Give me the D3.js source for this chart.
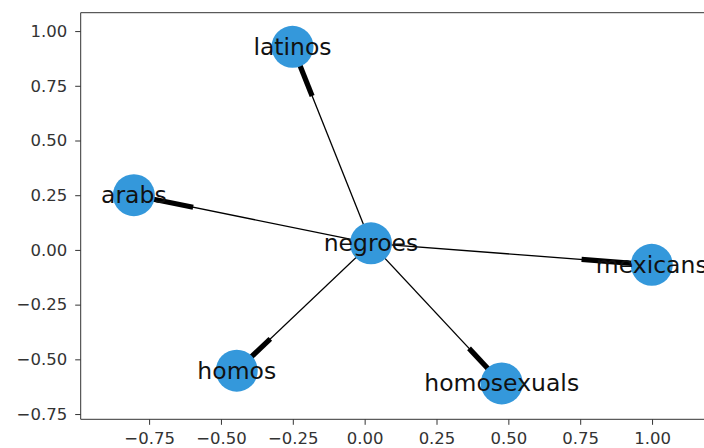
<!DOCTYPE html>
<html>
  <head>
    <meta charset="utf-8" />
    <script src="https://cdn.jsdelivr.net/npm/d3@7"></script>
    <style>
      body { margin: 0; background: #fff; }
      .spine { stroke: #333; stroke-width: 1; fill: none; }
      .tick line { stroke: #333; }
      .tick text { font-family: "DejaVu Sans"; font-size: 16.5px; fill: #333; }
      .edge { stroke: #000; fill: none; }
      .node { fill: #3498db; }
      .label { font-family: "DejaVu Sans"; font-size: 23.5px; fill: #111; }
    </style>
  </head>
  <body>
    <div id="chart"></div>
    <script type="text/javascript">

      var w = 704, h = 448;

      // node positions (data coordinates)
      var nodes = ["negroes", "latinos", "arabs", "mexicans", "homos", "homosexuals"];
      var nodeX = [0.022, -0.251, -0.803, 0.999, -0.445, 0.477];
      var nodeY = [0.030, 0.928, 0.250, -0.068, -0.552, -0.610];

      // directed edges: source -> target
      var edgeSource = ["negroes", "negroes", "negroes", "negroes", "negroes"];
      var edgeTarget = ["latinos", "arabs", "mexicans", "homos", "homosexuals"];

      var xTicks = [-0.75, -0.5, -0.25, 0, 0.25, 0.5, 0.75, 1.0];
      var yTicks = [-0.75, -0.5, -0.25, 0, 0.25, 0.5, 0.75, 1.0];

      var axLeft = 80.7, axTop = 12.7, axBottom = 419.3;
      var x = d3.scaleLinear().domain([-0.988, 1.2]).range([axLeft, axLeft + 2.188 * 287.4]);
      var y = d3.scaleLinear().domain([-0.774, 1.084]).range([axBottom, axTop]);

      var fmt = function(v) { return d3.format(".2f")(v).replace("-", "\u2212"); };

      var svg = d3.select("#chart").append("svg")
        .attr("width", w).attr("height", h);

      var pos = {};
      nodes.forEach(function(n, i) { pos[n] = { x: nodeX[i], y: nodeY[i] }; });

      var edges = edgeSource.map(function(s, i) { return { s: pos[s], t: pos[edgeTarget[i]] }; });

      // thin edges
      svg.selectAll("line.thin").data(edges).enter().append("line")
        .attr("class", "edge")
        .attr("stroke-width", 1.3)
        .attr("x1", function(d) { return x(d.s.x); })
        .attr("y1", function(d) { return y(d.s.y); })
        .attr("x2", function(d) { return x(d.t.x); })
        .attr("y2", function(d) { return y(d.t.y); });

      // old networkx style "arrows": thick last quarter of each edge
      var p = 0.75;
      svg.selectAll("line.arrow").data(edges).enter().append("line")
        .attr("class", "edge")
        .attr("stroke-width", 5.2)
        .attr("x1", function(d) { return x(d.s.x + p * (d.t.x - d.s.x)); })
        .attr("y1", function(d) { return y(d.s.y + p * (d.t.y - d.s.y)); })
        .attr("x2", function(d) { return x(d.t.x); })
        .attr("y2", function(d) { return y(d.t.y); });

      svg.selectAll("circle.node").data(nodes).enter().append("circle")
        .attr("class", "node")
        .attr("r", 21)
        .attr("cx", function(d) { return x(pos[d].x); })
        .attr("cy", function(d) { return y(pos[d].y); });

      svg.selectAll("text.label").data(nodes).enter().append("text")
        .attr("class", "label")
        .attr("text-anchor", "middle")
        .attr("dominant-baseline", "central")
        .attr("x", function(d) { return x(pos[d].x); })
        .attr("y", function(d) { return y(pos[d].y); })
        .text(function(d) { return d; });

      // axes
      svg.append("g").attr("transform", "translate(0," + axBottom + ")")
        .call(d3.axisBottom(x).tickValues(xTicks).tickFormat(fmt).tickSize(5.5).tickPadding(7))
        .call(function(g) { g.select(".domain").remove(); });

      svg.append("g").attr("transform", "translate(" + axLeft + ",0)")
        .call(d3.axisLeft(y).tickValues(yTicks).tickFormat(fmt).tickSize(5.5).tickPadding(8))
        .call(function(g) { g.select(".domain").remove(); });

      svg.append("path").attr("class", "spine")
        .attr("d", "M" + w + "," + axTop + "H" + axLeft + "V" + axBottom + "H" + w);

    </script>
  </body>
</html>
